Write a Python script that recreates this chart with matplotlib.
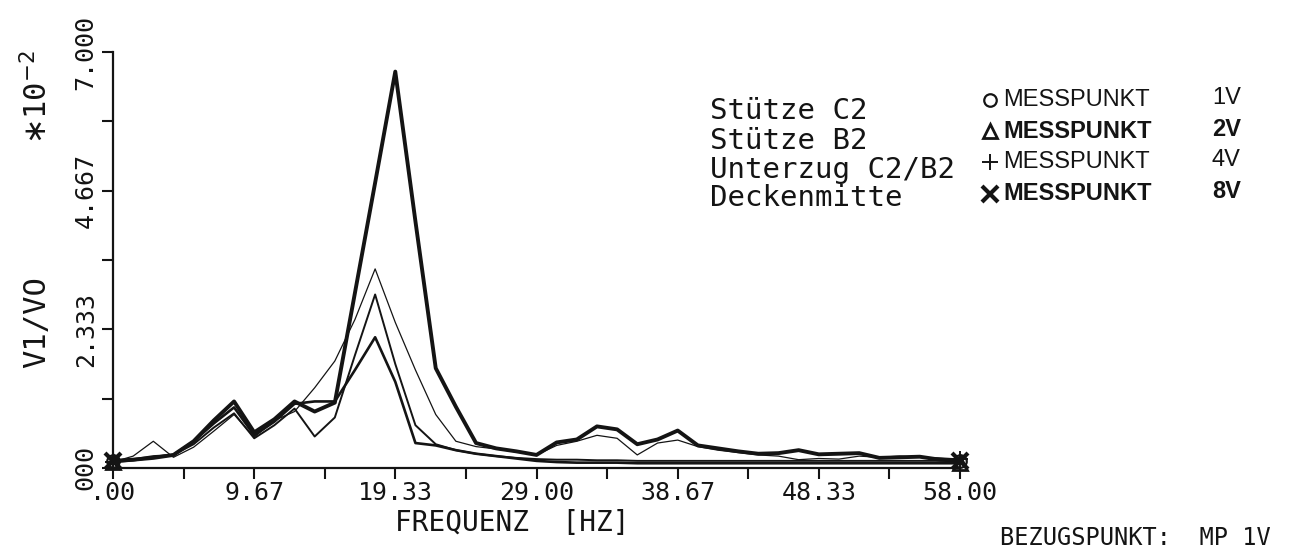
import numpy as np
import matplotlib.pyplot as plt
from matplotlib.lines import Line2D

# frequency grid of the transfer functions (Hz)
freq = [0.00, 1.38, 2.76, 4.14, 5.52, 6.90, 8.29, 9.67, 11.05, 12.43, 13.81,
        15.19, 16.57, 17.95, 19.33, 20.71, 22.10, 23.48, 24.86, 26.24, 27.62,
        29.00, 30.38, 31.76, 33.14, 34.52, 35.90, 37.29, 38.67, 40.05, 41.43,
        42.81, 44.19, 45.57, 46.95, 48.33, 49.71, 51.10, 52.48, 53.86, 55.24,
        56.62, 58.00]

# V1/V0 in units of 1e-2
mp1v = [0.12, 0.15, 0.20, 0.22, 0.40, 0.68, 0.92, 0.50, 0.72, 1.00, 0.53,
        0.85, 1.90, 2.92, 1.75, 0.72, 0.40, 0.30, 0.24, 0.20, 0.17,
        0.15, 0.14, 0.14, 0.13, 0.13, 0.12, 0.12, 0.12, 0.12, 0.12,
        0.12, 0.12, 0.12, 0.12, 0.12, 0.12, 0.12, 0.12, 0.12, 0.12,
        0.12, 0.12]
mp2v = [0.10, 0.13, 0.18, 0.22, 0.45, 0.75, 1.02, 0.55, 0.78, 1.08, 1.12,
        1.12, 1.65, 2.20, 1.45, 0.42, 0.38, 0.30, 0.24, 0.20, 0.16,
        0.12, 0.10, 0.09, 0.09, 0.09, 0.08, 0.08, 0.08, 0.08, 0.08,
        0.08, 0.08, 0.08, 0.08, 0.08, 0.08, 0.08, 0.08, 0.08, 0.08,
        0.08, 0.08]
mp4v = [0.10, 0.20, 0.45, 0.18, 0.35, 0.62, 0.90, 0.52, 0.80, 0.95, 1.35,
        1.80, 2.50, 3.35, 2.45, 1.65, 0.90, 0.45, 0.36, 0.32, 0.27,
        0.22, 0.38, 0.45, 0.55, 0.50, 0.22, 0.42, 0.47, 0.36, 0.30,
        0.26, 0.22, 0.20, 0.14, 0.16, 0.15, 0.20, 0.18, 0.20, 0.18,
        0.17, 0.15]
mp8v = [0.12, 0.14, 0.17, 0.22, 0.45, 0.80, 1.12, 0.60, 0.82, 1.12, 0.95,
        1.10, 2.95, 4.80, 6.67, 4.15, 1.68, 1.03, 0.42, 0.33, 0.28,
        0.22, 0.43, 0.48, 0.70, 0.65, 0.40, 0.48, 0.63, 0.38, 0.33,
        0.28, 0.24, 0.25, 0.30, 0.23, 0.24, 0.25, 0.17, 0.18, 0.19,
        0.14, 0.12]

labels = ['Stütze C2', 'Stütze B2', 'Unterzug C2/B2', 'Deckenmitte']
points = ['1V', '2V', '4V', '8V']

xticks = [0, 9.667, 19.333, 29.0, 38.667, 48.333, 58.0]
xticklabels = ['.00', '9.67', '19.33', '29.00', '38.67', '48.33', '58.00']
yticks = [0, 2.333, 4.667, 7.0]
yticklabels = ['000', '2.333', '4.667', '7.000']

W, H = 1299, 552
ink = '#141414'
mono = 'DejaVu Sans Mono'

fig = plt.figure(figsize=(W / 100, H / 100), dpi=100)
ax = fig.add_axes([113 / W, 1 - 468 / H, 847 / W, 416 / H])

styles = [
    dict(data=mp1v, lw=1.4, marker='o', ms=9, mfc='none', mew=1.6),
    dict(data=mp2v, lw=1.9, marker='^', ms=10, mfc='none', mew=2.0),
    dict(data=mp4v, lw=0.9, marker='+', ms=11, mew=1.4),
    dict(data=mp8v, lw=2.8, marker='x', ms=11, mew=3.0),
]
for st in styles:
    ax.plot(freq, st['data'], color=ink, lw=st['lw'], marker=st['marker'],
            ms=st['ms'], mfc=st.get('mfc', ink), mec=ink, mew=st['mew'],
            markevery=[0, len(freq) - 1], clip_on=False, zorder=3)

ax.set_xlim(0, 58)
ax.set_ylim(0, 7)
for side in ['top', 'right']:
    ax.spines[side].set_visible(False)
for side in ['left', 'bottom']:
    ax.spines[side].set_linewidth(1.6)
    ax.spines[side].set_color(ink)

ax.set_xticks(xticks)
ax.set_xticklabels(xticklabels, family=mono, fontsize=18, color=ink)
ax.set_xticks([4.833, 14.5, 24.167, 33.833, 43.5, 53.167], minor=True)
ax.set_yticks(yticks)
ax.set_yticklabels(yticklabels, family=mono, fontsize=18, color=ink,
                   rotation=90, va='center')
ax.set_yticks([1.167, 3.5, 5.833], minor=True)
ax.tick_params(which='both', direction='out', length=8, width=1.5,
               color=ink)
ax.tick_params(axis='x', pad=1)
ax.tick_params(axis='y', pad=3)

# axis titles
fig.text(37 / W, 1 - 322 / H, 'V1/VO', rotation=90, ha='center',
         va='center', family=mono, fontsize=22, color=ink)
fig.text(37 / W, 1 - 97 / H, r'$\ast$10$^{-2}$', rotation=90, ha='center',
         va='center', family=mono, fontsize=22, color=ink)
fig.text(512 / W, 1 - 523 / H, 'FREQUENZ  [HZ]', ha='center', va='center',
         family=mono, fontsize=20, color=ink)
fig.text(1000 / W, 1 - 550 / H, 'BEZUGSPUNKT:  MP 1V', ha='left',
         va='bottom', family=mono, fontsize=17, color=ink)

# key: measuring point labels, symbols and point names
rows_txt = [111, 141, 170, 198]
rows_key = [100, 131, 162, 194]
for i, st in enumerate(styles):
    fig.text(710 / W, 1 - rows_txt[i] / H, labels[i], ha='left',
             va='center', family=mono, fontsize=21, color=ink)
    fig.add_artist(Line2D([990 / W], [1 - rows_key[i] / H],
                          transform=fig.transFigure, marker=st['marker'],
                          ms=st['ms'], mfc=st.get('mfc', ink), mec=ink,
                          mew=st['mew'], ls='none'))
    fig.text(1003 / W, 1 - rows_key[i] / H, 'MESSPUNKT', ha='left',
             va='center', family='Liberation Sans', fontsize=17,
             weight='bold' if i in (1, 3) else 'normal', color=ink)
    fig.text(1212 / W, 1 - (rows_key[i] - 2) / H, points[i], ha='left',
             va='center', family='Liberation Sans', fontsize=17,
             weight='bold' if i in (1, 3) else 'normal', color=ink)

fig.savefig('out.png', dpi=100, facecolor='white')
